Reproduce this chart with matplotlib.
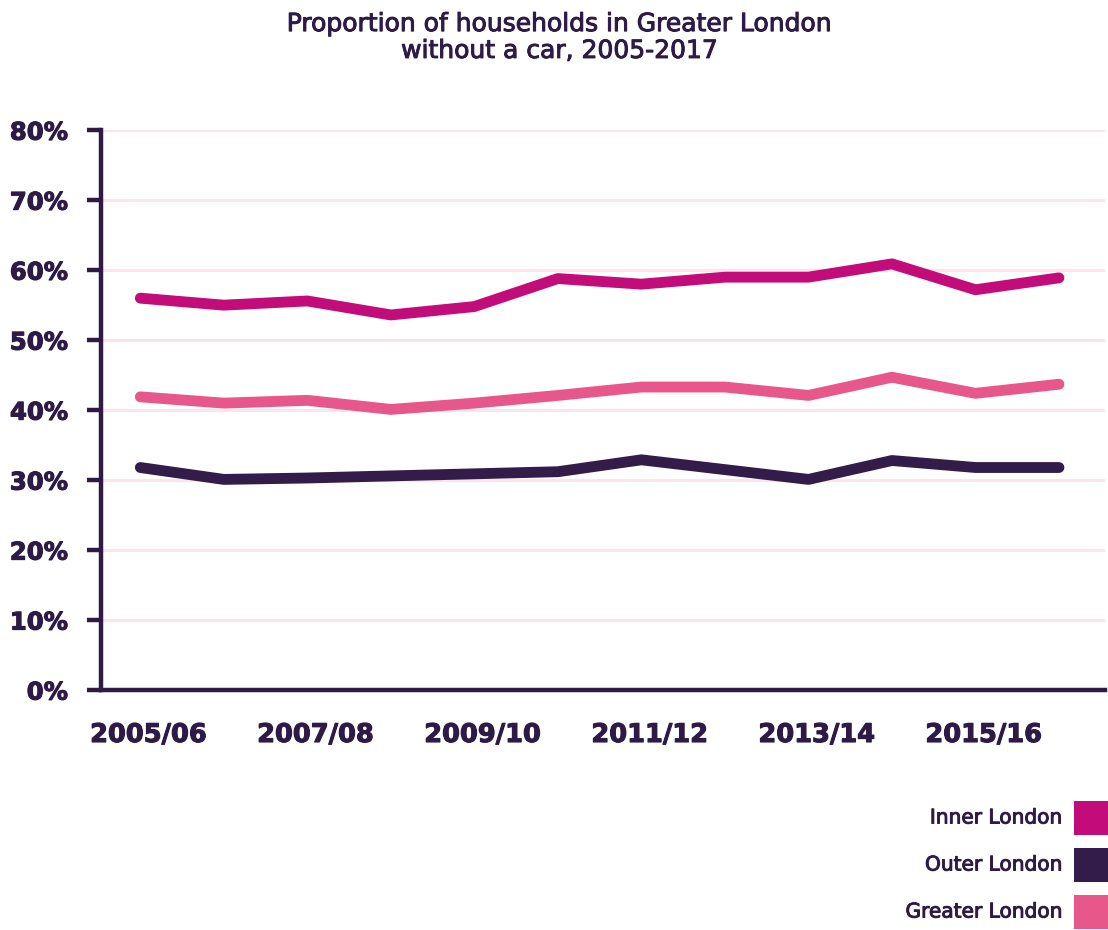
import matplotlib
matplotlib.use("Agg")
import matplotlib.pyplot as plt
import matplotlib.patheffects as pe
from matplotlib.patches import Rectangle
import numpy as np

plt.rcParams['font.family'] = ['DejaVu Sans']

years = ["2005/06", "2006/07", "2007/08", "2008/09", "2009/10", "2010/11",
         "2011/12", "2012/13", "2013/14", "2014/15", "2015/16", "2016/17"]
inner = [56.0, 55.0, 55.6, 53.6, 54.8, 58.8, 58.0, 59.0, 59.0, 60.9, 57.2, 58.9]
outer = [31.8, 30.1, 30.3, 30.6, 30.9, 31.2, 32.9, 31.5, 30.1, 32.8, 31.8, 31.8]
greater = [41.9, 41.0, 41.4, 40.1, 41.0, 42.1, 43.3, 43.3, 42.1, 44.7, 42.4, 43.7]

names = ["Inner London", "Outer London", "Greater London"]
colours = ["#C20C7A", "#341C4A", "#E8578A"]
text_col = "#2E1A47"
medium = [pe.withStroke(linewidth=0.7, foreground=text_col)]

fig = plt.figure(figsize=(11.08, 9.3), dpi=100)
ax = fig.add_axes([0.0912, 0.258, 0.906, 0.602])

x = np.arange(len(years))
for vals, col in zip([inner, outer, greater], colours):
    ax.plot(x, vals, color=col, lw=7.8, solid_capstyle='round',
            solid_joinstyle='round', zorder=3)

ax.set_ylim(0, 80)
ax.set_xlim(-0.47, 11.55)
ax.set_yticks(np.arange(0, 81, 10))
ax.set_yticklabels([f"{v}%" for v in range(0, 81, 10)])
ax.set_xticks(x[::2] + 0.1)
ax.set_xticklabels(years[::2])

ax.grid(axis='y', color='#FCE4EC', lw=2.2, zorder=0)
ax.set_axisbelow(True)
for s in ['top', 'right']:
    ax.spines[s].set_visible(False)
for s in ['left', 'bottom']:
    ax.spines[s].set_color(text_col)
    ax.spines[s].set_linewidth(3.2)
ax.tick_params(axis='y', length=10, width=3.2, color=text_col, pad=14,
               labelsize=17.5, labelcolor=text_col)
ax.tick_params(axis='x', length=0, pad=23, labelsize=18.5, labelcolor=text_col)
for lab in ax.get_yticklabels() + ax.get_xticklabels():
    lab.set_fontweight('bold')
    lab.set_path_effects([pe.withStroke(linewidth=0.8, foreground=text_col)])

fig.text(0.505, 0.987, "Proportion of households in Greater London\nwithout a car, 2005-2017",
         ha='center', va='top', fontsize=18, color=text_col, linespacing=1.15,
         path_effects=medium)

# legend on the right, label then swatch
for i, (name, col) in enumerate(zip(names, colours)):
    yc = 1 - (818 + 47 * i) / 930
    fig.text(1063 / 1108, yc, name, ha='right', va='center', fontsize=14.5,
             color=text_col, path_effects=medium)
    fig.add_artist(Rectangle((1074 / 1108, yc - 17 / 930), 40 / 1108, 34 / 930,
                             transform=fig.transFigure, color=col, lw=0))

fig.savefig("out.png", dpi=100, facecolor='white')
